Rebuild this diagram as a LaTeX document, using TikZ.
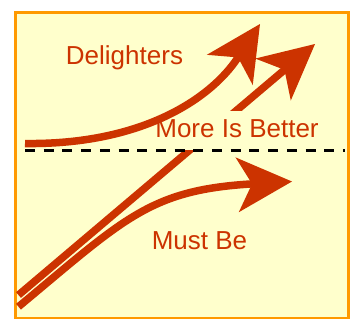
\documentclass[tikz,border=0pt]{standalone}
\usepackage{fontspec}
\setmainfont{Liberation Sans}
\usepackage{xcolor}
\usepackage{tikz}
\usetikzlibrary{arrows.meta}
\definecolor{kanoRed}{HTML}{CC3300}
\definecolor{kanoFrame}{HTML}{FF9900}
\definecolor{kanoBack}{HTML}{FFFFCC}

\begin{document}
\begin{tikzpicture}[
  x=1pt, y=-1pt,
  every node/.style={font=\fontsize{26}{30}\selectfont, text=kanoRed},
  lbl/.style={anchor=base, inner sep=0pt},
  frame/.style={draw=kanoFrame, line width=2.7pt, fill=kanoBack},
  arr/.style={draw=kanoRed, line width=7.5pt,
              -{Stealth[length=55pt, width=55pt, inset=15pt, line width=0pt]}},
  neutral/.style={draw=black, line width=3.3pt, dash pattern=on 10pt off 8.7pt}
]
  \useasboundingbox (0,0) rectangle (356,324);
  \draw[frame] (15.5,12.3) rectangle (348.7,318);
  % end points of the three curves
  \coordinate (mibStart) at (18.5,295);
  \coordinate (mibTip) at (315,44);
  \coordinate (mustStart) at (18.5,306.7);
  \coordinate (mustTip) at (292,181.5);
  \coordinate (delStart) at (25,143.5);
  \coordinate (delTip) at (260,24);
  \coordinate (axisL) at (25,150.3);
  \coordinate (axisR) at (345,150.3);
  \draw[arr] (mibStart) -- (mibTip);
  \node[anchor=base, fill=kanoBack, inner sep=4pt, text height=22pt, text depth=9pt] (mib) at (237,137) {More Is Better};
  \draw[arr] (delStart) .. controls (140,145) and (210,100) .. (delTip);
  \draw[arr] (mustStart) .. controls (125,218) and (150,190) .. (mustTip);
  \draw[neutral] (axisL) -- (axisR);
  \node[lbl] (del) at (124.5,64) {Delighters};
  \node[lbl] (must) at (199.5,249) {Must Be};
\end{tikzpicture}
\end{document}
